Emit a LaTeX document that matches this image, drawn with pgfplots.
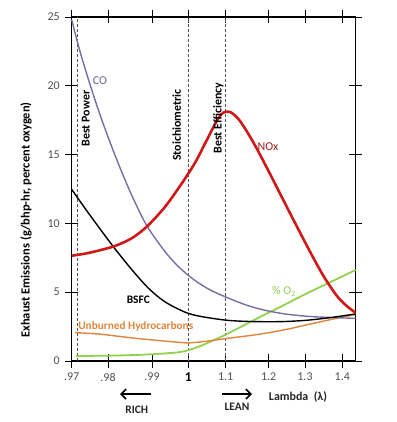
\documentclass[border=0pt]{standalone}
\usepackage{fontspec}
\setmainfont{Carlito}
\usepackage{pgfplots}
\pgfplotsset{compat=1.18}
\usetikzlibrary{arrows.meta}
\definecolor{cocol}{HTML}{7B6CA5}
\definecolor{cotxt}{HTML}{6E6299}
\definecolor{noxcol}{HTML}{D01818}
\definecolor{noxtxt}{HTML}{A01E1E}
\definecolor{hccol}{HTML}{E0843C}
\definecolor{o2col}{HTML}{92D050}
\definecolor{tickgray}{HTML}{505050}
\definecolor{vline}{HTML}{555555}
\begin{document}
\begin{tikzpicture}
\path[use as bounding box] (0,0) rectangle (397bp,422bp);
\begin{axis}[
  at={(71.7bp,61bp)}, anchor=south west,
  scale only axis, width=284bp, height=344bp,
  xmin=71.7, xmax=355.7, ymin=0, ymax=25,
  axis line style={line width=1.4pt},
  clip=false,
  tick align=center,
  major tick length=13bp,
  tick style={black, line width=0.8pt},
  xtick={71.7,108,152,188.3,225.7,268.7,305,342.3},
  xticklabels={.97,.98,.99,{\color{black}\bfseries\fontsize{13.5}{14}\selectfont 1},1.1,1.2,1.3,1.4},
  ytick={0,5,10,15,20,25},
  /pgf/number format/assume math mode=true,
  ticklabel style={font=\fontsize{12}{14}\selectfont, text=tickgray},
  xticklabel style={yshift=-2bp},
  yticklabel style={xshift=-2bp},
]
% reference lines
\addplot[vline, densely dashed, line width=0.6pt] coordinates {(77,0) (77,25)};
\addplot[vline, densely dashed, line width=0.6pt] coordinates {(188.3,0) (188.3,25)};
\addplot[vline, densely dashed, line width=0.6pt] coordinates {(225.7,0) (225.7,25)};
% %O2
\addplot[o2col, line width=1.8pt, smooth] coordinates {
(76,0.36) (110,0.39) (140,0.45) (165,0.55) (180,0.65) (190,0.82) (200,1.08) (212,1.45) (226,1.93) (240,2.45) (260,3.2) (280,3.92) (305,4.85) (330,5.72) (355.7,6.62)};
% Unburned HC
\addplot[hccol, line width=1.4pt, smooth] coordinates {
(75,2.06) (100,1.95) (133,1.67) (160,1.48) (188,1.31) (200,1.38) (226,1.63) (250,1.85) (269,2.06) (290,2.35) (305,2.6) (330,3.0) (355.7,3.39)};
% CO
\addplot[cocol, line width=1.4pt, smooth] coordinates {
(71.7,24.8) (80,22.5) (90,20.1) (100,17.9) (110,15.9) (120,14.05) (131.7,12.05) (146.7,9.85) (165,7.95) (180,6.75) (195,5.85) (210,5.17) (225.7,4.65) (245,4.1) (263,3.72) (285,3.42) (313,3.22) (355.7,3.1)};
% BSFC
\addplot[black, line width=1.4pt, smooth] coordinates {
(71.7,12.47) (85,11.1) (100,9.6) (115,8.15) (131.7,6.65) (148.3,5.3) (165,4.3) (185,3.55) (200,3.25) (225.7,2.97) (250,2.87) (280,2.86) (305,2.95) (330,3.15) (355.7,3.42)};
% NOx
\addplot[noxcol, line width=2.6pt, smooth] coordinates {
(71.7,7.65) (85,7.8) (98.3,8.02) (115,8.36) (131.7,8.92) (146.7,9.76) (165,11.2) (181.7,12.9) (195,14.4) (205,15.8) (212,16.8) (218,17.6) (223.3,18.05) (230,18.1) (238.3,17.6) (246.7,16.7) (256.7,15.45) (270,13.6) (283.3,11.7) (296.7,9.8) (310,7.95) (323.3,6.2) (336.7,4.75) (346.7,4.0) (355.7,3.5)};
% curve labels
\node[text=cotxt, font=\fontsize{12}{14}\selectfont] at (axis cs:100,20.4) {CO};
\node[text=noxtxt, font=\fontsize{12}{14}\selectfont] at (axis cs:268,15.57) {NOx};
\node[text=black, font=\fontsize{11.5}{14}\selectfont\bfseries] at (axis cs:138.3,4.48) {BSFC};
\node[text=hccol, font=\fontsize{11.3}{14}\selectfont\bfseries] at (axis cs:135.8,2.54) {Unburned Hydrocarbons};
\node[text=o2col, font=\fontsize{12}{14}\selectfont] at (axis cs:284,5.04) {\% O\textsubscript{2}};
% vertical line labels
\node[rotate=90, font=\fontsize{12}{14}\selectfont\bfseries] at (axis cs:85.7,17.62) {Best Power};
\node[rotate=90, font=\fontsize{12}{14}\selectfont\bfseries] at (axis cs:176.7,17.15) {Stoichiometric};
\node[rotate=90, font=\fontsize{12}{14}\selectfont\bfseries] at (axis cs:218.3,17.66) {Best Efficiency};
% below axis
\draw[line width=1.6pt, -{Straight Barb[length=5bp,width=10bp]}] (axis cs:150.7,-2.4) -- (axis cs:120,-2.4);
\draw[line width=1.6pt, -{Straight Barb[length=5bp,width=10bp]}] (axis cs:221.7,-2.4) -- (axis cs:252,-2.4);
\node[font=\fontsize{11.5}{13}\selectfont\bfseries, text=black!85] at (axis cs:136.7,-3.56) {RICH};
\node[font=\fontsize{11.5}{13}\selectfont\bfseries, text=black!85] at (axis cs:237,-3.36) {LEAN};
\node[font=\fontsize{12}{14}\selectfont\bfseries, text=black!85] at (axis cs:298,-2.59) {Lambda\ \ (λ)};
\node[rotate=90, font=\fontsize{12.5}{14}\selectfont\bfseries] at (axis cs:26,10.25) {Exhaust Emissions (g/bhp-hr, percent oxygen)};
\end{axis}
\end{tikzpicture}
\end{document}
